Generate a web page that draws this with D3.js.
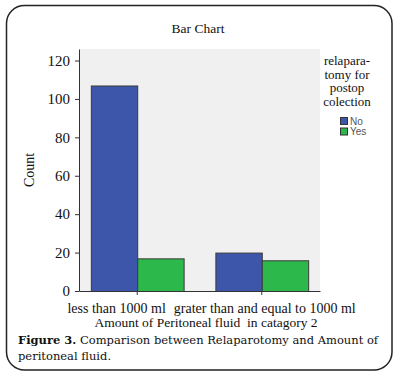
<!DOCTYPE html>
<html>
<head>
<meta charset="utf-8">
<script src="https://cdn.jsdelivr.net/npm/d3@7"></script>
<style>
  body { margin: 0; background: #fff; }
  text { font-family: "Liberation Serif", "Times New Roman", serif; fill: #111; }
</style>
</head>
<body>
<div id="chart"></div>
<script>
const categories = ["less than 1000 ml", "grater than and equal to 1000 ml"];
const groups = ["No", "Yes"];
const noValues = [107, 20];
const yesValues = [17, 16];
const yTicks = [0, 20, 40, 60, 80, 100, 120];
const legendTitle = ["relapara-", "tomy for", "postop", "colection"];

const COLOR_NO = "#3d56a9";
const COLOR_YES = "#2db84b";

const W = 399, H = 377;
const plot = { left: 79, right: 320, top: 49, bottom: 291 };

const svg = d3.select("#chart").append("svg")
  .attr("width", W)
  .attr("height", H);

// outer frame
svg.append("rect")
  .attr("x", 6.5).attr("y", 5.5)
  .attr("width", 385.5).attr("height", 364.5)
  .attr("rx", 18).attr("ry", 18)
  .attr("fill", "#fff")
  .attr("stroke", "#222")
  .attr("stroke-width", 1.5);

svg.append("text")
  .attr("x", 198).attr("y", 33)
  .attr("text-anchor", "middle")
  .style("font-size", "13.5px")
  .text("Bar Chart");

// plot background
svg.append("rect")
  .attr("x", plot.left).attr("y", plot.top)
  .attr("width", plot.right - plot.left)
  .attr("height", plot.bottom - plot.top)
  .attr("fill", "#f0f0f0");

const y = d3.scaleLinear()
  .domain([0, 126])
  .range([plot.bottom, plot.top]);

const x = d3.scaleBand()
  .domain(categories)
  .range([plot.left, plot.right])
  .paddingInner(0.255)
  .paddingOuter(0.095);

const xSub = d3.scaleBand()
  .domain(groups)
  .range([0, x.bandwidth()]);

const color = d3.scaleOrdinal().domain(groups).range([COLOR_NO, COLOR_YES]);

const data = categories.map((c, i) => ({ cat: c, values: [
  { key: "No", value: noValues[i] },
  { key: "Yes", value: yesValues[i] }
]}));

svg.append("g")
  .selectAll("g")
  .data(data)
  .join("g")
  .attr("transform", d => `translate(${x(d.cat)},0)`)
  .selectAll("rect")
  .data(d => d.values)
  .join("rect")
  .attr("x", d => xSub(d.key) + 0.5)
  .attr("y", d => y(d.value) + 0.5)
  .attr("width", xSub.bandwidth())
  .attr("height", d => y(0) - y(d.value))
  .attr("fill", d => color(d.key))
  .attr("stroke", "#3a3a3a")
  .attr("stroke-width", 1);

// y axis
const yAxis = svg.append("g")
  .attr("transform", `translate(${plot.left},0)`)
  .call(d3.axisLeft(y).tickValues(yTicks).tickSize(4).tickSizeOuter(0).tickPadding(5));
yAxis.select(".domain").attr("stroke", "#333");
yAxis.selectAll(".tick line").attr("stroke", "#333");
yAxis.selectAll(".tick text")
  .style("font-family", "'Liberation Serif', serif")
  .style("font-size", "15px")
  .attr("fill", "#111");

// x axis
const xAxis = svg.append("g")
  .attr("transform", `translate(0,${plot.bottom})`)
  .call(d3.axisBottom(x).tickSize(4).tickSizeOuter(0).tickPadding(3));
xAxis.select(".domain").attr("stroke", "#333");
xAxis.selectAll(".tick line").attr("stroke", "#333");
xAxis.selectAll(".tick text")
  .style("font-family", "'Liberation Serif', serif")
  .style("font-size", "14px")
  .attr("fill", "#111")
  .attr("dy", "1.05em");

// shift labels apart the way the original does
const labels = xAxis.selectAll(".tick text").nodes();
d3.select(labels[1]).attr("x", 3);
const secondStart = x(categories[1]) + x.bandwidth() / 2 + 3 - labels[1].getComputedTextLength() / 2;
const firstCenter = x(categories[0]) + x.bandwidth() / 2;
d3.select(labels[0])
  .attr("text-anchor", "end")
  .attr("x", secondStart - 8 - firstCenter);

svg.append("text")
  .attr("x", 206).attr("y", 327)
  .attr("text-anchor", "middle")
  .style("font-size", "13.5px")
  .style("white-space", "pre")
  .text("Amount of Peritoneal fluid  in catagory 2");

svg.append("text")
  .attr("transform", `translate(34,${(plot.top + plot.bottom) / 2}) rotate(-90)`)
  .attr("text-anchor", "middle")
  .style("font-size", "14px")
  .text("Count");

// legend
const legend = svg.append("g");
legend.selectAll("text.title")
  .data(legendTitle)
  .join("text")
  .attr("class", "title")
  .attr("x", 347)
  .attr("y", (d, i) => 65 + i * 13.5)
  .attr("text-anchor", "middle")
  .style("font-size", "13px")
  .text(d => d);

const items = legend.selectAll("g.item")
  .data(groups)
  .join("g")
  .attr("class", "item")
  .attr("transform", (d, i) => `translate(340,${117 + i * 10.5})`);
items.append("rect")
  .attr("x", 0.5).attr("y", 0.5)
  .attr("width", 7).attr("height", 7)
  .attr("fill", d => color(d))
  .attr("stroke", "#333");
items.append("text")
  .attr("x", 10).attr("y", 7.5)
  .style("font-family", "'Liberation Sans', Arial, sans-serif")
  .style("font-size", "10px")
  .style("fill", "#555")
  .text(d => d);

// caption
const cap = svg.append("text")
  .attr("x", 18).attr("y", 344)
  .style("font-family", "'DejaVu Serif', serif")
  .style("font-size", "11.5px");
cap.append("tspan").style("font-weight", "bold").text("Figure 3.");
cap.append("tspan").text(" Comparison between Relaparotomy and Amount of");
svg.append("text")
  .attr("x", 18).attr("y", 360)
  .style("font-family", "'DejaVu Serif', serif")
  .style("font-size", "11.5px")
  .text("peritoneal fluid.");
</script>
</body>
</html>
